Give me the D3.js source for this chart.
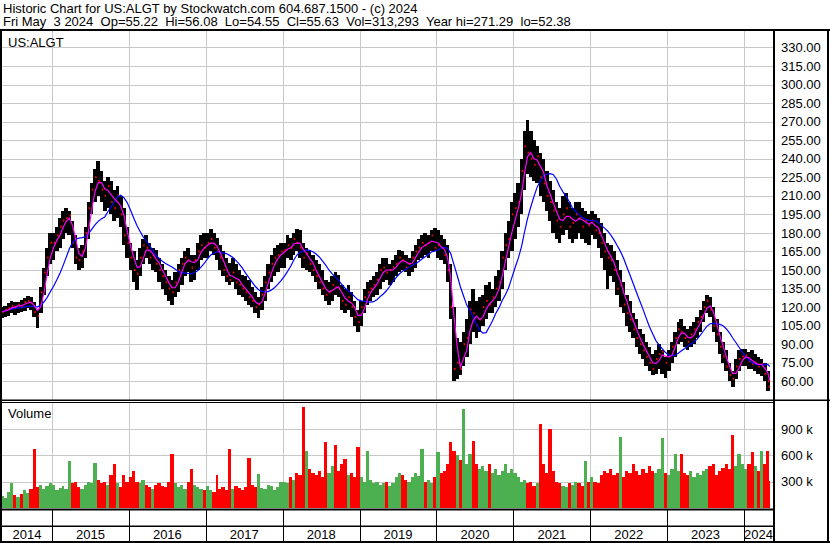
<!DOCTYPE html>
<html>
<head>
<meta charset="utf-8">
<script src="https://cdn.jsdelivr.net/npm/d3@7"></script>
<style>
body { margin: 0; background: #fff; }
svg text { font-family: "Liberation Sans", Arial, sans-serif; }
</style>
</head>
<body>
<svg id="drawing_region"></svg>
<script>
// half-month bars [low, high, close]; 2014 starts with the May 1 period
const bars2014 = [[111,120,116],[112,121,118],[113,123,119],[115,125,121],[114,124,120],[115,124,122],[116,126,121],[117,127,124],
    [119,129,125],[118,128,123],[112,124,116],[103,118,113],[115,136,132],[130,152,148],[145,168,160],[155,180,172]];
const bars2015 = [[158,180,172],[165,185,178],[168,192,185],[175,198,190],[180,200,192],[178,198,194],[168,190,172],[155,178,160],
    [150,168,158],[152,170,165],[160,185,180],[175,205,200],[195,220,215],[205,232,225],[210,238,222],[205,230,215],
    [198,222,210],[200,225,218],[195,222,205],[190,215,200],[192,218,210],[185,210,195],[170,200,178],[160,185,172]];
const bars2016 = [[150,172,160],[140,165,150],[134,158,147],[145,168,160],[155,175,170],[160,178,168],[155,172,160],[150,168,162],
    [148,166,155],[140,160,150],[135,155,145],[130,150,140],[125,145,135],[122,142,132],[128,148,140],[132,155,150],
    [138,160,155],[145,165,160],[148,168,158],[140,162,152],[142,162,158],[150,172,165],[158,178,170],[160,180,168]];
const bars2017 = [[160,180,172],[165,183,175],[162,180,168],[158,176,165],[150,170,160],[145,165,150],[140,160,145],[138,156,142],
    [140,160,148],[135,155,140],[130,150,138],[128,146,135],[125,145,132],[122,142,128],[120,136,125],[115,132,120],
    [111,128,122],[118,136,130],[125,145,140],[135,155,148],[140,162,155],[145,168,160],[148,170,162],[152,172,165]];
const bars2018 = [[152,172,166],[160,178,170],[158,176,168],[162,180,175],[165,183,172],[160,182,168],[152,172,160],[150,168,163],
    [148,165,155],[145,162,150],[140,158,145],[135,155,140],[130,150,135],[125,142,130],[122,140,132],[125,145,138],
    [130,148,136],[128,146,135],[118,138,125],[115,135,122],[118,138,128],[112,132,120],[105,125,112],[100,118,108]];
const bars2019 = [[105,125,120],[115,135,128],[122,140,132],[125,142,135],[128,145,138],[130,148,142],[135,155,150],[140,160,152],
    [142,160,148],[138,155,150],[140,158,152],[145,162,155],[148,166,160],[150,165,158],[148,162,152],[145,160,155],
    [148,165,160],[152,170,165],[158,175,168],[160,178,172],[162,180,170],[160,178,172],[165,182,178],[165,184,168]];
const bars2020 = [[160,182,170],[158,178,168],[155,175,162],[140,170,150],[110,155,120],[60,120,70],[62,95,75],[65,92,70],
    [72,100,90],[80,110,95],[90,125,118],[100,135,115],[95,125,105],[100,128,110],[105,130,120],[110,138,125],
    [115,140,122],[115,135,128],[120,145,135],[125,150,140],[135,165,160],[150,180,170],[160,190,175],[165,205,195]];
const bars2021 = [[175,212,200],[185,220,205],[195,240,230],[215,262,250],[228,271,245],[225,262,240],[222,255,235],[220,250,242],
    [210,245,225],[205,240,220],[198,230,210],[190,222,205],[180,215,198],[175,205,190],[172,200,185],[178,210,195],
    [182,212,200],[175,205,185],[172,200,188],[175,205,195],[180,205,192],[175,200,185],[172,198,190],[170,195,186]];
const bars2022 = [[178,198,190],[175,195,182],[168,192,180],[160,188,172],[150,180,165],[135,172,160],[145,170,158],[140,165,150],
    [130,158,135],[120,150,138],[115,140,122],[105,130,115],[100,125,110],[95,115,102],[88,110,95],[82,102,90],
    [78,98,85],[72,92,80],[68,88,75],[65,82,70],[66,85,78],[70,90,82],[66,85,84],[63,80,75]];
const bars2023 = [[68,85,80],[75,92,88],[80,100,95],[90,108,102],[92,110,100],[88,105,95],[85,102,92],[88,105,98],
    [90,108,102],[95,112,108],[100,118,112],[108,125,120],[115,130,125],[112,128,118],[100,120,105],[92,110,98],
    [82,100,88],[75,92,80],[68,85,72],[60,75,65],[55,68,62],[62,78,72],[68,85,78],[72,86,80]];
const bars2024 = [[72,86,81],[70,84,76],[70,85,74],[68,82,75],[66,80,72],[64,78,74],[60,75,66],[52.38,68,60],[54.55,56.08,55.63]];

// volume per half-month bar, thousands of shares
const vol2014 = [140,110,180,280,150,130,160,200,170,220,670,240,260,220,250,280];
const vol2015 = [260,200,230,250,220,540,280,300,240,220,260,300,280,510,320,280,300,260,380,500,280,240,380,300];
const vol2016 = [350,420,300,280,320,260,240,220,260,280,250,240,300,610,280,240,260,220,300,440,260,240,220,200];
const vol2017 = [250,200,180,380,220,240,200,670,220,250,230,200,240,565,260,240,390,230,220,260,250,200,240,300];
const vol2018 = [300,280,350,320,400,380,1150,650,450,400,380,420,350,750,400,480,715,420,500,560,380,400,350,690];
const vol2019 = [350,300,645,320,280,300,260,280,300,250,280,350,400,380,320,300,350,400,360,670,300,320,280,350];
const vol2020 = [635,400,420,500,750,650,600,550,1130,500,620,760,500,450,480,420,500,400,450,380,420,500,400,450];
const vol2021 = [400,350,300,320,280,300,250,280,955,500,400,900,420,300,280,250,240,280,260,300,280,250,530,300];
const vol2022 = [350,300,280,380,420,400,450,380,400,810,350,420,400,500,420,380,450,400,480,420,400,450,795,400];
const vol2023 = [380,450,610,420,620,400,380,420,350,400,380,420,450,480,500,380,420,460,500,450,830,480,620,500];
const vol2024 = [450,500,635,480,420,650,500,645,313];

const years = [2014, 2015, 2016, 2017, 2018, 2019, 2020, 2021, 2022, 2023, 2024];
const priceTicks = [60, 75, 90, 105, 120, 135, 150, 165, 180, 195, 210, 225, 240, 255, 270, 285, 300, 315, 330];
const volumeTicks = [300, 600, 900];
const headerLine1 = "Historic Chart for US:ALGT by Stockwatch.com 604.687.1500 - (c) 2024";
const headerLine2 = "Fri May  3 2024  Op=55.22  Hi=56.08  Lo=54.55  Cl=55.63  Vol=313,293  Year hi=271.29  lo=52.38";
const symbol = "US:ALGT";

const barsByYear = [bars2014, bars2015, bars2016, bars2017, bars2018, bars2019, bars2020, bars2021, bars2022, bars2023, bars2024];
const volByYear = [vol2014, vol2015, vol2016, vol2017, vol2018, vol2019, vol2020, vol2021, vol2022, vol2023, vol2024];

let data = [];
years.forEach( (y, k) => {
    const start = (y == 2014) ? 8 : 0;
    barsByYear[k].forEach( (b, i) => {
        const p = start + i;
        data.push({ date: new Date(y, Math.floor(p/2), (p % 2) ? 16 : 1),
                    lo: b[0], hi: b[1], cl: b[2], vol: volByYear[k][i] });
    });
});

const config = {
    parent: '#drawing_region',
    width: 830,
    height: 543,
    left: 2, right: 773,
    top: 31, bottom: 400,
    volTop: 403, volBottom: 508
};

class StockChart {
    constructor( config, data ) {
        this.config = config;
        this.data = data;
        this.init();
    }

    init() {
        let self = this;
        self.svg = d3.select( self.config.parent )
            .attr('width', self.config.width)
            .attr('height', self.config.height);

        self.xscale = d3.scaleTime()
            .domain( [new Date(2015,0,1), new Date(2024,0,1)] )
            .range( [52, 744] );
        self.yscale = d3.scaleLinear()
            .domain( [60, 330] )
            .range( [381.3, 47.4] );
        self.vscale = d3.scaleLinear()
            .domain( [0, 900] )
            .range( [508, 429] );

        // end date of each bar and moving averages of the closes
        self.data.forEach( (d, i) => {
            d.end = (i < self.data.length - 1) ? self.data[i+1].date : new Date(2024,4,4);
            d.prev = (i > 0) ? self.data[i-1].cl : d.cl;
        });
        const sma = (w) => self.data.map( (d, i) => d3.mean( self.data.slice(Math.max(0, i-w+1), i+1), e => e.cl ) );
        self.fast = sma(3);
        self.slow = sma(11);
    }

    render() {
        let self = this;
        const c = self.config;
        const grid = '#c8c8c8';
        const yearLines = years.slice(1).map( y => Math.round(self.xscale(new Date(y,0,1))) + 0.5 );

        // grid
        const g = self.svg.append('g');
        g.selectAll('.hgrid').data(priceTicks).join('line')
            .attr('x1', c.left).attr('x2', c.right)
            .attr('y1', d => Math.round(self.yscale(d)) + 0.5)
            .attr('y2', d => Math.round(self.yscale(d)) + 0.5)
            .attr('stroke', grid);
        g.selectAll('.vgrid').data(volumeTicks).join('line')
            .attr('x1', c.left).attr('x2', c.right)
            .attr('y1', d => Math.round(self.vscale(d)) + 0.5)
            .attr('y2', d => Math.round(self.vscale(d)) + 0.5)
            .attr('stroke', grid);
        g.selectAll('.ygrid').data(yearLines).join('line')
            .attr('x1', d => d).attr('x2', d => d)
            .attr('y1', c.top).attr('y2', c.bottom)
            .attr('stroke', grid);
        g.selectAll('.ygrid2').data(yearLines).join('line')
            .attr('x1', d => d).attr('x2', d => d)
            .attr('y1', c.volTop).attr('y2', c.volBottom)
            .attr('stroke', grid);

        // price bars, drawn edge to edge so they form one band
        self.svg.append('g').selectAll('rect').data(self.data).join('rect')
            .attr('x', d => self.xscale(d.date) - 0.2)
            .attr('width', d => self.xscale(d.end) - self.xscale(d.date) + 0.4)
            .attr('y', d => self.yscale(d.hi))
            .attr('height', d => self.yscale(d.lo) - self.yscale(d.hi))
            .attr('fill', '#000')
            .attr('shape-rendering', 'crispEdges');
        self.svg.append('g').selectAll('rect').data(self.data).join('rect')
            .attr('x', d => self.xscale(d.end) - 1.5)
            .attr('width', 1.5)
            .attr('y', d => self.yscale(d.cl) - 1)
            .attr('height', 2)
            .attr('fill', '#ff0000');

        // moving averages
        const xmid = d => (self.xscale(d.date) + self.xscale(d.end)) / 2;
        const line = d3.line().x( (d, i) => xmid(self.data[i]) ).y( d => self.yscale(d) );
        self.svg.append('path')
            .attr('d', line(self.slow))
            .attr('fill', 'none').attr('stroke', '#0000ff').attr('stroke-width', 1.2);
        self.svg.append('path')
            .attr('d', line(self.fast))
            .attr('fill', 'none').attr('stroke', '#ff00ff').attr('stroke-width', 1.2);

        // volume bars, adjacent like the daily bars of the original
        self.svg.append('g').selectAll('rect').data(self.data).join('rect')
            .attr('x', d => self.xscale(d.date))
            .attr('width', d => Math.max(1, self.xscale(d.end) - self.xscale(d.date)))
            .attr('y', d => self.vscale(d.vol))
            .attr('height', d => self.vscale(0) - self.vscale(d.vol))
            .attr('fill', d => d.cl >= d.prev ? '#4caf50' : '#ff0000')
            .attr('shape-rendering', 'crispEdges');

        // frame
        const fr = self.svg.append('g').attr('fill', '#000');
        fr.append('rect').attr('x', 0).attr('y', 29).attr('width', 830).attr('height', 2);
        fr.append('rect').attr('x', 0).attr('y', 29).attr('width', 2).attr('height', 514);
        fr.append('rect').attr('x', c.right).attr('y', 29).attr('width', 2).attr('height', 514);
        fr.append('rect').attr('x', 827).attr('y', 29).attr('width', 2).attr('height', 514);
        fr.append('rect').attr('x', 0).attr('y', 399.5).attr('width', 830).attr('height', 1.5);
        fr.append('rect').attr('x', 0).attr('y', 402).attr('width', c.right).attr('height', 1);
        fr.append('rect').attr('x', 0).attr('y', 508.5).attr('width', c.right).attr('height', 2);
        fr.append('rect').attr('x', 0).attr('y', 525.5).attr('width', c.right).attr('height', 1.5);
        fr.append('rect').attr('x', 0).attr('y', 541).attr('width', 830).attr('height', 2);
        fr.selectAll('.sep').data(yearLines).join('line')
            .attr('x1', d => d).attr('x2', d => d)
            .attr('y1', 510).attr('y2', 541)
            .attr('stroke', '#000');

        // right axes
        const yaxis = d3.axisRight(self.yscale)
            .tickValues(priceTicks).tickFormat(d3.format('.2f'))
            .tickSize(0).tickPadding(6);
        const vaxis = d3.axisRight(self.vscale)
            .tickValues(volumeTicks).tickFormat(d => d + ' k')
            .tickSize(0).tickPadding(6);
        [yaxis, vaxis].forEach( ax => {
            const a = self.svg.append('g')
                .attr('transform', `translate(${c.right + 2}, 0)`)
                .call(ax);
            a.select('.domain').remove();
            a.selectAll('text')
                .attr('font-family', '"Liberation Sans", Arial, sans-serif')
                .attr('font-size', '13px')
                .attr('fill', '#000');
        });

        // year labels centered in each year's cell
        self.svg.append('g').selectAll('text').data(years).join('text')
            .attr('x', y => {
                const a = Math.max(c.left, self.xscale(new Date(y,0,1)));
                const b = Math.min(c.right, self.xscale(new Date(y+1,0,1)));
                return (a + b) / 2;
            })
            .attr('y', 539)
            .attr('text-anchor', 'middle')
            .attr('font-size', '13px')
            .attr('fill', '#000')
            .text(y => y);

        // texts
        const t = self.svg.append('g').attr('font-size', '13px').attr('fill', '#000');
        const label = (x, y, s) => t.append('text')
            .attr('x', x).attr('y', y)
            .attr('xml:space', 'preserve')
            .style('white-space', 'pre')
            .text(s);
        label(3, 12.5, headerLine1);
        label(3, 26, headerLine2);
        label(8, 47, symbol);
        label(8, 418, 'Volume');
    }
}

const chart = new StockChart( config, data );
chart.render();
</script>
</body>
</html>
